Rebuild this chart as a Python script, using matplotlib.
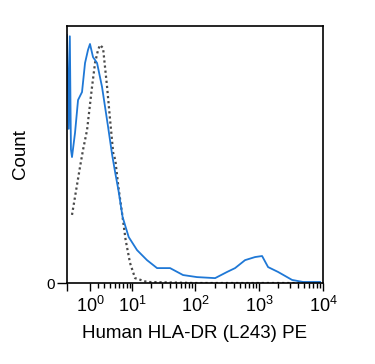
import numpy as np
import matplotlib
matplotlib.use('Agg')
import matplotlib.pyplot as plt

# Configurações
plt.rcParams['font.family'] = ['Liberation Sans', 'DejaVu Sans']
plt.rcParams['figure.dpi'] = 100

# ---------------- dados ----------------
# HLA-DR PE (azul)
x_stain = [-1.99, -1.75, -1.6, -1.45, -1.31, -0.92, -0.54, -0.05, 0.32, 0.69, 0.94,
           1.33, 1.88, 2.61, 3.62, 4.39, 5.04, 5.76, 6.84, 8.7, 11.96,
           17.3, 25.0, 40.1, 64.1, 106, 204, 314, 419, 601, 862,
           1111, 1379, 1979, 3278, 4874, 9003]
y_stain = [96.5, 60.0, 96.0, 52.0, 49.0, 58.4, 71.2, 74.3, 85.6, 90.7, 93.0,
           87.9, 85.6, 76.3, 60.7, 49.8, 42.8, 36.2, 25.7, 17.9, 12.8,
           8.9, 5.8, 5.8, 3.1, 2.3, 1.9, 4.3, 5.8, 8.9, 10.1,
           10.5, 6.2, 4.3, 1.2, 0.4, 0.4]

# controle isotipo (pontilhado)
x_iso = [-1.31, -0.30, 0.073, 0.57, 1.20, 1.60, 2.02, 2.31, 2.77, 3.44,
         3.99, 4.60, 5.04, 5.76, 6.84, 7.73, 9.17, 11.1, 17.3, 100, 10000]
y_iso = [26.5, 45.1, 51.8, 59.5, 76.3, 85.6, 90.7, 92.6, 91.4, 76.3,
         63.4, 50.6, 47.9, 37.4, 25.7, 16.7, 7.8, 1.9, 0.4, 0.0, 0.0]

major_ticks = [1, 10, 100, 1000, 10000]
tick_labels = [r'$\mathregular{10^{%d}}$' % i for i in range(5)]

# escala tipo "logicle" (arcsinh)
C = 3.4
def fwd(x):
    return np.arcsinh(np.asarray(x) / C) / np.log(10)

def inv(y):
    return C * np.sinh(np.asarray(y) * np.log(10))

# ---------------- figura ----------------
fig = plt.figure(figsize=(3.75, 3.64))
ax = fig.add_axes([0.1787, 0.2225, 0.6826, 0.7061])
ax.set_xscale('function', functions=(fwd, inv))

ax.plot(x_iso, y_iso, color='#4a4a4a', linestyle=(0, (1, 1.3)), linewidth=1.6)
ax.plot(x_stain, y_stain, color='#1f78d6', linewidth=1.3)

ax.set_xlim(-1.99, 10000)
ax.set_ylim(0, 100)

minor = [m * 10 ** d for d in range(4) for m in range(2, 10)]
ax.set_xticks([-1.99] + major_ticks)
ax.set_xticklabels([''] + tick_labels, fontsize=13)
ax.set_xticks(minor, minor=True)
ax.tick_params(axis='x', which='major', length=6, width=1, direction='out', pad=3)
ax.tick_params(axis='x', which='minor', length=3.5, width=1, direction='out')

ax.set_yticks([0])
ax.set_yticklabels(['0'], fontsize=11)
ax.tick_params(axis='y', length=7, width=1, direction='out', pad=2)

for s in ax.spines.values():
    s.set_linewidth(1.2)

ax.set_xlabel('Human HLA-DR (L243) PE', fontsize=13.5, labelpad=7)
ax.set_ylabel('Count', fontsize=13.5, labelpad=12)

fig.savefig('out.png', dpi=100)
